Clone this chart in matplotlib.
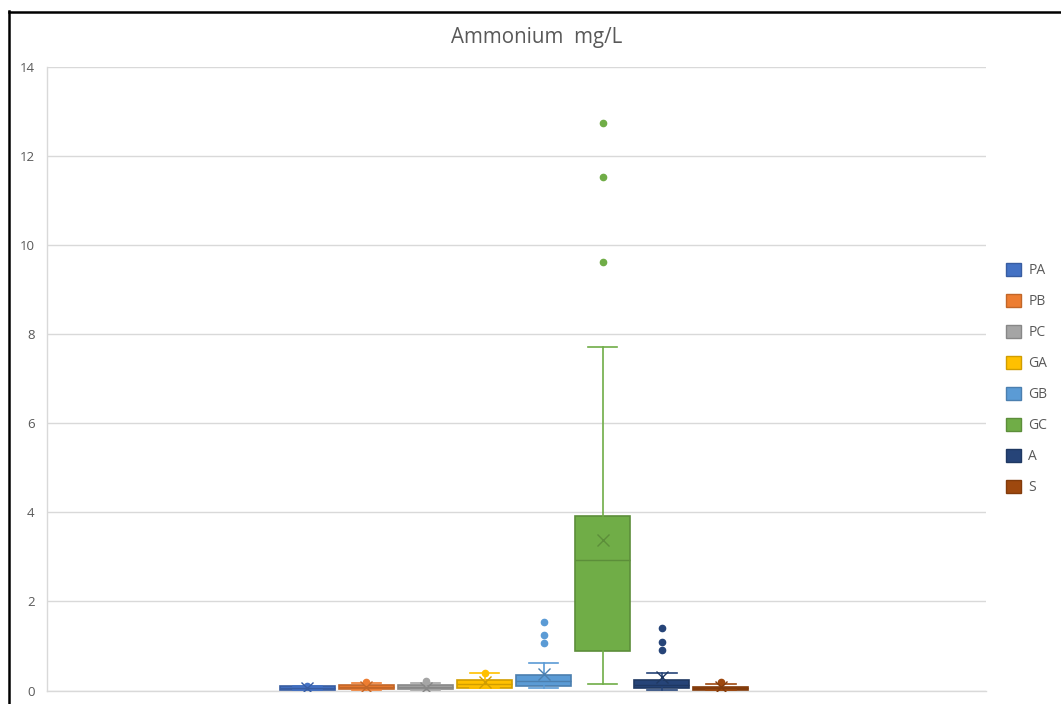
import matplotlib
matplotlib.use("Agg")
import matplotlib.pyplot as plt
from matplotlib.lines import Line2D
from matplotlib.patches import Patch
import matplotlib.colors as mcolors

# Ammonium concentration (mg/L) summary statistics per site
sites = ["PA", "PB", "PC", "GA", "GB", "GC", "A", "S"]
q1 = [0.02, 0.03, 0.03, 0.06, 0.10, 0.88, 0.05, 0.02]
median = [0.05, 0.08, 0.07, 0.15, 0.22, 2.92, 0.12, 0.05]
q3 = [0.09, 0.12, 0.12, 0.23, 0.34, 3.92, 0.23, 0.08]
whisker_lo = [0.01, 0.01, 0.01, 0.06, 0.06, 0.15, 0.02, 0.01]
whisker_hi = [0.11, 0.16, 0.17, 0.40, 0.61, 7.71, 0.39, 0.14]
means = [0.05, 0.07, 0.06, 0.19, 0.36, 3.37, 0.31, 0.07]
outliers = [[0.10], [0.18], [0.21], [0.40], [1.06, 1.25, 1.53], [9.62, 11.53, 12.74],
            [0.90, 1.10, 1.41], [0.19]]

colors = ["#4472C4", "#ED7D31", "#A5A5A5", "#FFC000", "#5B9BD5", "#70AD47", "#264478", "#9E480E"]


def darker(c, f=0.82):
    r, g, b = mcolors.to_rgb(c)
    return (r * f, g * f, b * f)


fig = plt.figure(figsize=(10.61, 7.04), dpi=100)
W, H = 1061, 704
ax = fig.add_axes([47 / W, (H - 690.5) / H, (986 - 47) / W, (690.5 - 67) / H])

stats = []
for i, name in enumerate(sites):
    stats.append(dict(label=name, q1=q1[i], med=median[i], q3=q3[i],
                      whislo=whisker_lo[i], whishi=whisker_hi[i],
                      mean=means[i], fliers=outliers[i]))

positions = list(range(1, len(sites) + 1))
for i, st in enumerate(stats):
    c = colors[i]
    dc = darker(c)
    ax.bxp([st], positions=[positions[i]], widths=0.93, patch_artist=True,
           showmeans=True, capwidths=0.5,
           boxprops=dict(facecolor=c, edgecolor=dc, linewidth=1.2),
           medianprops=dict(color=dc, linewidth=1.0),
           whiskerprops=dict(color=c, linewidth=1.2),
           capprops=dict(color=c, linewidth=1.2),
           meanprops=dict(marker="x", markeredgecolor=dc, markersize=9, markeredgewidth=1.0),
           flierprops=dict(marker="o", markerfacecolor=c, markeredgecolor=c, markersize=4.5),
           zorder=3)

ax.set_xlim(-3.41, 12.49)
ax.set_ylim(0, 14)
ax.set_yticks(range(0, 15, 2))
ax.set_xticks([])
ax.grid(axis="y", color="#D9D9D9", linewidth=1.0, zorder=0)
ax.set_axisbelow(True)
for side in ["top", "right"]:
    ax.spines[side].set_visible(False)
ax.spines["left"].set_color("#D9D9D9")
ax.spines["bottom"].set_color("#D9D9D9")
ax.spines["bottom"].set_linewidth(1.0)
ax.spines["left"].set_linewidth(1.0)
ax.tick_params(axis="y", length=0, pad=9, labelsize=9.5, labelcolor="#595959", labelfontfamily="Open Sans")

fig.text(537 / W, 1 - 37 / H, "Ammonium  mg/L", ha="center", va="center",
         fontsize=14.8, color="#595959", family="Open Sans")

handles = [Patch(facecolor=colors[i], edgecolor=darker(colors[i]), linewidth=1.0) for i in range(len(sites))]
leg = fig.legend(handles, sites, loc="upper left", bbox_to_anchor=(1006 / W, 1 - 263 / H),
                 frameon=False, fontsize=10, labelspacing=1.12, handlelength=1.1,
                 handleheight=1.1, handletextpad=0.5, borderaxespad=0, borderpad=0)
for t in leg.get_texts():
    t.set_color("#595959")
    t.set_family("Open Sans")

# chart frame
fig.add_artist(Line2D([8.5 / W, 8.5 / W], [0, 1 - 11 / H], color="black", linewidth=1.8, transform=fig.transFigure))
fig.add_artist(Line2D([8.5 / W, 1], [1 - 11.5 / H, 1 - 11.5 / H], color="black", linewidth=1.8, transform=fig.transFigure))

fig.savefig("out.png", dpi=100)
